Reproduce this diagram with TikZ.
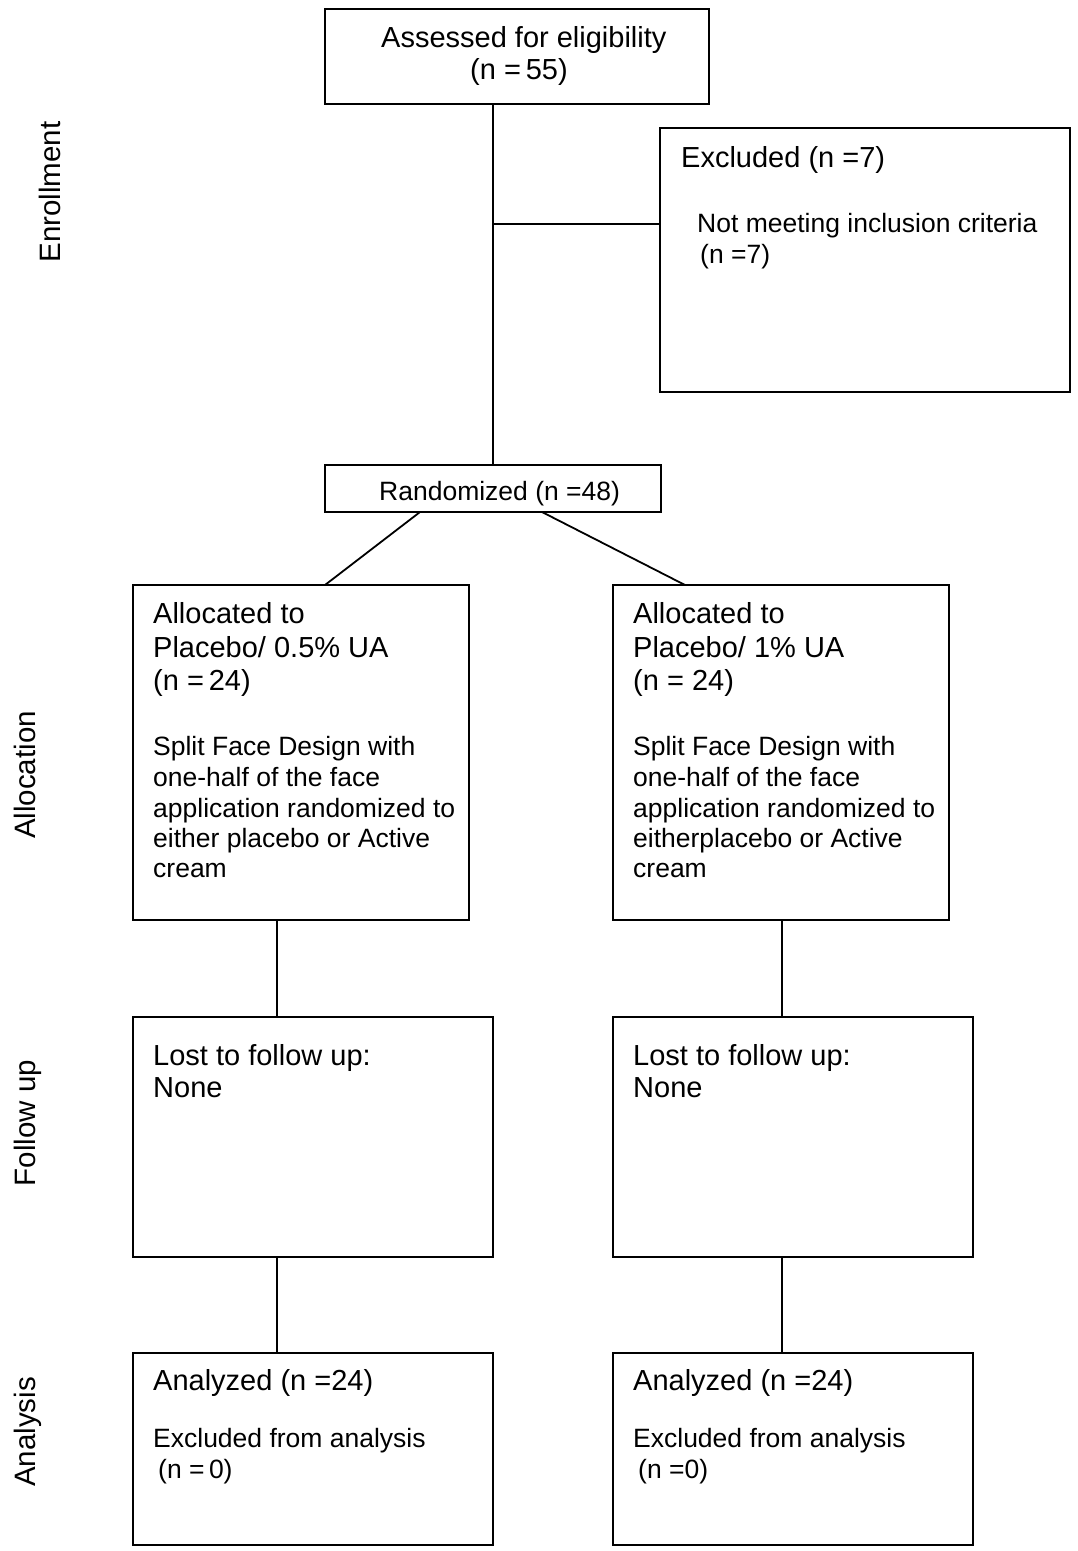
\documentclass[tikz,border=0pt]{standalone}
\usepackage{fontspec}
\setmainfont{Liberation Sans}
\usetikzlibrary{calc}
\begin{document}
\begin{tikzpicture}[x=1pt,y=-1pt,
  box/.style={draw=black,line width=1.8pt,rectangle,anchor=north west,inner sep=0pt,outer sep=0pt},
  conn/.style={draw=black,line width=1.8pt},
  big/.style={anchor=base west,inner sep=0pt,font=\fontsize{29}{33}\selectfont},
  small/.style={anchor=base west,inner sep=0pt,font=\fontsize{26.5}{30}\selectfont},
  side/.style={anchor=base,inner sep=0pt,rotate=90,font=\fontsize{29.5}{33}\selectfont}]
\useasboundingbox[fill=white] (0,0) rectangle (1078,1551);

% boxes
\node[box,minimum width=384pt,minimum height=95pt] (elig) at (325,9) {};
\node[box,minimum width=410pt,minimum height=264pt] (excl) at (660,128) {};
\node[box,minimum width=336pt,minimum height=47pt] (rand) at (325,465) {};
\node[box,minimum width=336pt,minimum height=335pt] (allocL) at (133,585) {};
\node[box,minimum width=336pt,minimum height=335pt] (allocR) at (613,585) {};
\node[box,minimum width=360pt,minimum height=240pt] (fuL) at (133,1017) {};
\node[box,minimum width=360pt,minimum height=240pt] (fuR) at (613,1017) {};
\node[box,minimum width=360pt,minimum height=192pt] (anL) at (133,1353) {};
\node[box,minimum width=360pt,minimum height=192pt] (anR) at (613,1353) {};

% connectors
\draw[conn] (rand.north |- elig.south) -- (rand.north);
\coordinate (br) at (493,224);
\draw[conn] (br) -- (br -| excl.west);
\draw[conn] ($(rand.south west)+(95,0)$) -- ($(allocL.north west)+(192,0)$);
\draw[conn] ($(rand.south west)+(217,0)$) -- ($(allocR.north west)+(72,0)$);
\coordinate (cL) at (277,0);
\coordinate (cR) at (782,0);
\draw[conn] (cL |- allocL.south) -- (cL |- fuL.north);
\draw[conn] (cR |- allocR.south) -- (cR |- fuR.north);
\draw[conn] (cL |- fuL.south) -- (cL |- anL.north);
\draw[conn] (cR |- fuR.south) -- (cR |- anR.north);

% side labels
\node[side] (lenr) at (60,192) {Enrollment};
\node[side] (lall) at (35,775) {Allocation};
\node[side] (lfu) at (35,1123) {Follow up};
\node[side] (lan) at (35,1432) {Analysis};

% texts
\node[big] (e1) at (381,47) {Assessed for eligibility};
\node[big] (e2) at (470,79) {(n =\,55)};

\node[big] (x1) at (681,167) {Excluded (n =7)};
\node[small] (x2) at (697,232) {Not meeting inclusion criteria};
\node[small] (x3) at (700,263) {(n =7)};

\node[small] (r1) at (379,500) {Randomized (n =48)};

\node[big] (aL1) at (153,623) {Allocated to};
\node[big] (aL2) at (153,657) {Placebo/ 0.5\% UA};
\node[big] (aL3) at (153,690) {(n =\,24)};
\node[small] (aL4) at (153,755) {Split Face Design with};
\node[small] (aL5) at (153,786) {one-half of the face};
\node[small] (aL6) at (153,817) {application randomized to};
\node[small] (aL7) at (153,847) {either placebo or Active};
\node[small] (aL8) at (153,877) {cream};

\node[big] (aR1) at (633,623) {Allocated to};
\node[big] (aR2) at (633,657) {Placebo/ 1\% UA};
\node[big] (aR3) at (633,690) {(n = 24)};
\node[small] (aR4) at (633,755) {Split Face Design with};
\node[small] (aR5) at (633,786) {one-half of the face};
\node[small] (aR6) at (633,817) {application randomized to};
\node[small] (aR7) at (633,847) {eitherplacebo or Active};
\node[small] (aR8) at (633,877) {cream};

\node[big] (fL1) at (153,1065) {Lost to follow up:};
\node[big] (fL2) at (153,1097) {None};
\node[big] (fR1) at (633,1065) {Lost to follow up:};
\node[big] (fR2) at (633,1097) {None};

\node[big] (nL1) at (153,1390) {Analyzed (n =24)};
\node[small] (nL2) at (153,1447) {Excluded from analysis};
\node[small] (nL3) at (158,1478) {(n =\,0)};
\node[big] (nR1) at (633,1390) {Analyzed (n =24)};
\node[small] (nR2) at (633,1447) {Excluded from analysis};
\node[small] (nR3) at (638,1478) {(n =0)};
\end{tikzpicture}
\end{document}
